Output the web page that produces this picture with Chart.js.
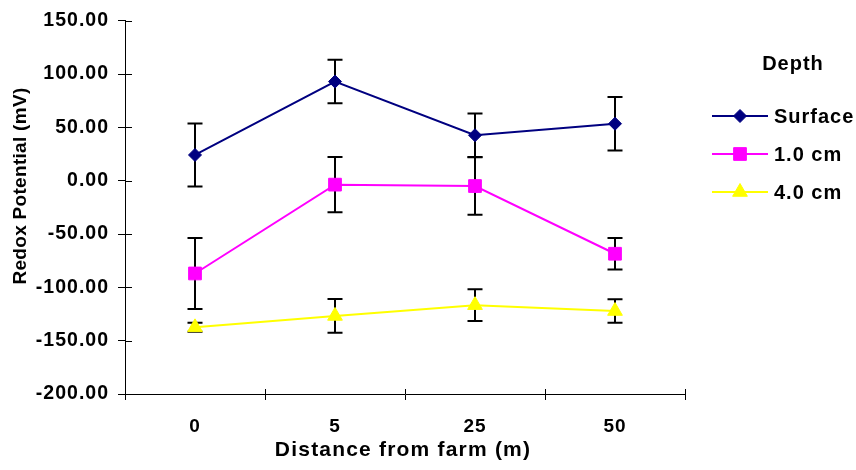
<!DOCTYPE html>
<html>
<head>
<meta charset="utf-8">
<title>Redox potential by distance</title>
<script src="https://cdn.jsdelivr.net/npm/chart.js@4.4.1/dist/chart.umd.min.js"></script>
<style>
  html, body { margin: 0; padding: 0; background: #fff; }
  #wrap { width: 856px; height: 470px; }
</style>
</head>
<body>
<div id="wrap"><canvas id="redox-chart" width="856" height="470"></canvas></div>
<script>
// distance categories (m)
const distances = ['0', '5', '25', '50'];

// mean redox potential (mV) and error per depth
const surfaceMean = [24.1, 92.9, 42.6, 53.4];
const surfaceErr  = [29.6, 20.4, 20.4, 25.0];
const cm1Mean = [-87.0, -3.7, -5.0, -68.5];
const cm1Err  = [33.3, 25.8, 27.0, 14.8];
const cm4Mean = [-137.5, -126.8, -116.7, -122.2];
const cm4Err  = [4.2, 15.8, 14.8, 11.1];

const depthNames = ['Surface', '1.0 cm', '4.0 cm'];

const FONT = "'Liberation Sans', Arial, sans-serif";

// --- error bars, drawn under the markers ---
const errorBars = {
    id: 'errorBars',
    beforeDatasetsDraw(chart) {
        const ctx = chart.ctx;
        const y = chart.scales.y;
        ctx.save();
        ctx.strokeStyle = '#000';
        ctx.lineWidth = 2;
        chart.data.datasets.forEach((ds, i) => {
            const meta = chart.getDatasetMeta(i);
            meta.data.forEach((pt, j) => {
                const top = y.getPixelForValue(ds.data[j] + ds.errors[j]);
                const bot = y.getPixelForValue(ds.data[j] - ds.errors[j]);
                ctx.beginPath();
                ctx.moveTo(pt.x, top); ctx.lineTo(pt.x, bot);
                ctx.moveTo(pt.x - 7.5, top); ctx.lineTo(pt.x + 7.5, top);
                ctx.moveTo(pt.x - 7.5, bot); ctx.lineTo(pt.x + 7.5, bot);
                ctx.stroke();
            });
        });
        ctx.restore();
    }
};

// --- wider glyph spacing for all chart text ---
const spacing = {
    id: 'spacing',
    beforeLayout(chart) { chart.ctx.letterSpacing = '1px'; },
    beforeDraw(chart) { chart.ctx.letterSpacing = '1px'; }
};

// --- inner halves of the tick marks (ticks cross the axis lines) ---
const crossTicks = {
    id: 'crossTicks',
    afterDraw(chart) {
        const ctx = chart.ctx;
        const xs = chart.scales.x, ys = chart.scales.y;
        const area = chart.chartArea;
        ctx.save();
        ctx.strokeStyle = '#000';
        ctx.lineWidth = 1;
        ctx.beginPath();
        ys.ticks.forEach((t, i) => {
            const py = Math.round(ys.getPixelForTick(i)) + 0.5;
            ctx.moveTo(area.left, py); ctx.lineTo(area.left + 7, py);
        });
        for (let i = 0; i <= distances.length; i++) {
            const px = Math.round(xs.getPixelForValue(i - 0.5)) + 0.5;
            ctx.moveTo(px, area.bottom); ctx.lineTo(px, area.bottom - 5);
        }
        ctx.stroke();
        ctx.restore();
    }
};

// --- axis titles and the legend box on the right ---
const titlesAndLegend = {
    id: 'titlesAndLegend',
    afterDraw(chart) {
        const ctx = chart.ctx;
        const area = chart.chartArea;
        ctx.save();
        ctx.fillStyle = '#000';
        ctx.textBaseline = 'middle';

        // y title
        ctx.save();
        ctx.font = 'bold 19px ' + FONT;
        ctx.letterSpacing = '0.3px';
        ctx.translate(21, 186);
        ctx.rotate(-Math.PI / 2);
        ctx.textAlign = 'center';
        ctx.fillText('Redox Potential (mV)', 0, 0);
        ctx.restore();

        // x title
        ctx.font = 'bold 21px ' + FONT;
        ctx.letterSpacing = '1.2px';
        ctx.textAlign = 'center';
        ctx.fillText('Distance from farm (m)', (area.left + area.right) / 2 - 2, 450);

        // legend
        ctx.font = 'bold 20px ' + FONT;
        ctx.letterSpacing = '1px';
        ctx.fillText('Depth', area.right + 108, 64);
        ctx.textAlign = 'left';
        const rows = [116, 154, 192];
        chart.data.datasets.forEach((ds, i) => {
            const yy = rows[i];
            const x0 = area.right + 27, x1 = area.right + 83;
            ctx.strokeStyle = ds.borderColor;
            ctx.lineWidth = 2;
            ctx.beginPath();
            ctx.moveTo(x0, yy); ctx.lineTo(x1, yy);
            ctx.stroke();
            ctx.fillStyle = ds.backgroundColor;
            ctx.strokeStyle = ds.backgroundColor;
            ctx.lineWidth = 1;
            Chart.helpers.drawPoint(ctx, {
                pointStyle: ds.pointStyle,
                radius: ds.pointRadius,
                rotation: 0,
                borderWidth: 1
            }, (x0 + x1) / 2, yy);
            ctx.fillStyle = '#000';
            ctx.fillText(ds.label, area.right + 89, yy + 1);
        });
        ctx.restore();
    }
};

function depthSeries(label, mean, err, color, style, radius) {
    return {
        label: label,
        data: mean,
        errors: err,
        borderColor: color,
        backgroundColor: color,
        borderWidth: 2,
        pointStyle: style,
        pointRadius: radius,
        pointBorderWidth: 1,
        pointBorderColor: color,
        pointBackgroundColor: color,
        tension: 0
    };
}

const ctx = document.getElementById('redox-chart').getContext('2d');
new Chart(ctx, {
    type: 'line',
    data: {
        labels: distances,
        datasets: [
            depthSeries(depthNames[0], surfaceMean, surfaceErr, '#000080', 'rectRot', 6.5),
            depthSeries(depthNames[1], cm1Mean, cm1Err, '#FF00FF', 'rect', 9),
            depthSeries(depthNames[2], cm4Mean, cm4Err, '#FFFF00', 'triangle', 8.5)
        ]
    },
    options: {
        responsive: false,
        animation: false,
        events: [],
        layout: { padding: { top: 16, right: 171, left: 0, bottom: 0 } },
        plugins: {
            legend: { display: false },
            tooltip: { enabled: false }
        },
        scales: {
            x: {
                offset: true,
                grid: { offset: true, drawOnChartArea: false, tickLength: 6, color: '#000' },
                border: { color: '#000', width: 1 },
                ticks: {
                    color: '#000',
                    padding: 15,
                    maxRotation: 0,
                    font: { family: FONT, size: 19, weight: 'bold' }
                },
                afterFit(scale) { scale.height = 76; }
            },
            y: {
                min: -200,
                max: 150,
                grid: { drawOnChartArea: false, tickLength: 7, color: '#000' },
                border: { color: '#000', width: 1 },
                ticks: {
                    stepSize: 50,
                    color: '#000',
                    padding: 9,
                    font: { family: FONT, size: 19.5, weight: 'bold' },
                    callback: v => v.toFixed(2)
                },
                afterFit(scale) { scale.width = 125; }
            }
        }
    },
    plugins: [spacing, errorBars, crossTicks, titlesAndLegend]
});
</script>
</body>
</html>
